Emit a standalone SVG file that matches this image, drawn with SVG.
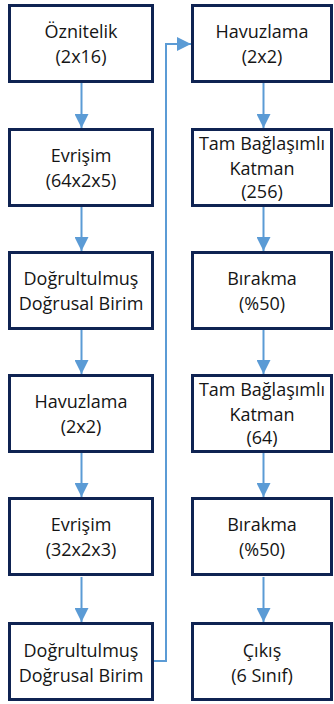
<svg xmlns="http://www.w3.org/2000/svg" width="334" height="704" viewBox="0 0 334 704">
<defs>
<marker id="ah" markerUnits="userSpaceOnUse" markerWidth="14" markerHeight="14" viewBox="0 0 14 14" refX="14" refY="7" orient="auto">
<path d="M0,0 L14,7 L0,14 Z" fill="#5b9bd5"/>
</marker>
<style>
.box{fill:#fff;stroke:#0f2352;stroke-width:3}
.t{font-family:"Open Sans","Liberation Sans",sans-serif;font-size:18px;fill:#151515;text-anchor:middle}
.c{fill:none;stroke:#5b9bd5;stroke-width:2;marker-end:url(#ah)}
</style>
</defs>
<rect width="334" height="704" fill="#fff"/>
<g id="connectors">
<path class="c" d="M81.5,83 V128"/>
<path class="c" d="M81.5,207 V251"/>
<path class="c" d="M81.5,330 V374"/>
<path class="c" d="M81.5,453 V497"/>
<path class="c" d="M81.5,577 V622"/>
<path class="c" d="M154,661 H166 V44 H191"/>
<path class="c" d="M263.5,83 V128"/>
<path class="c" d="M263.5,207 V251"/>
<path class="c" d="M263.5,330 V374"/>
<path class="c" d="M263.5,453 V497"/>
<path class="c" d="M263.5,577 V622"/>
</g>
<g id="n1"><rect class="box" x="9.5" y="5.5" width="143" height="76"/><text class="t" x="81" y="38">Öznitelik</text><text class="t" x="81" y="63">(2x16)</text></g>
<g id="n2"><rect class="box" x="9.5" y="129.5" width="143" height="76"/><text class="t" x="81" y="162">Evrişim</text><text class="t" x="81" y="187">(64x2x5)</text></g>
<g id="n3"><rect class="box" x="9.5" y="252.5" width="143" height="76"/><text class="t" x="81" y="285">Doğrultulmuş</text><text class="t" x="81" y="310">Doğrusal Birim</text></g>
<g id="n4"><rect class="box" x="9.5" y="375.5" width="143" height="76"/><text class="t" x="81" y="408">Havuzlama</text><text class="t" x="81" y="433">(2x2)</text></g>
<g id="n5"><rect class="box" x="9.5" y="498.5" width="143" height="76"/><text class="t" x="81" y="531">Evrişim</text><text class="t" x="81" y="556">(32x2x3)</text></g>
<g id="n6"><rect class="box" x="9.5" y="623.5" width="143" height="76"/><text class="t" x="81" y="657">Doğrultulmuş</text><text class="t" x="81" y="682">Doğrusal Birim</text></g>
<g id="n7"><rect class="box" x="192.5" y="5.5" width="139" height="76"/><text class="t" x="262" y="38">Havuzlama</text><text class="t" x="262" y="63">(2x2)</text></g>
<g id="n8"><rect class="box" x="192.5" y="129.5" width="139" height="76"/><text class="t" x="262" y="150">Tam Bağlaşımlı</text><text class="t" x="262" y="175">Katman</text><text class="t" x="262" y="198">(256)</text></g>
<g id="n9"><rect class="box" x="192.5" y="252.5" width="139" height="76"/><text class="t" x="262" y="285">Bırakma</text><text class="t" x="262" y="310">(%50)</text></g>
<g id="n10"><rect class="box" x="192.5" y="375.5" width="139" height="76"/><text class="t" x="262" y="396">Tam Bağlaşımlı</text><text class="t" x="262" y="421">Katman</text><text class="t" x="262" y="444">(64)</text></g>
<g id="n11"><rect class="box" x="192.5" y="498.5" width="139" height="76"/><text class="t" x="262" y="531">Bırakma</text><text class="t" x="262" y="556">(%50)</text></g>
<g id="n12"><rect class="box" x="192.5" y="623.5" width="139" height="76"/><text class="t" x="262" y="657">Çıkış</text><text class="t" x="262" y="682">(6 Sınıf)</text></g>
</svg>
